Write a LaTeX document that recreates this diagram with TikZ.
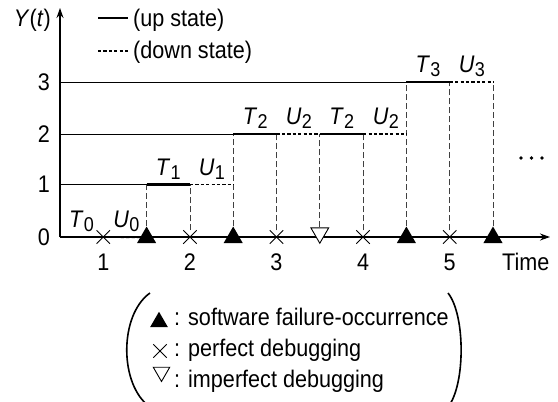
\documentclass[tikz,border=0pt]{standalone}
\usepackage{fontspec}
\setmainfont{Liberation Sans}[FakeStretch=0.9]
\usetikzlibrary{shapes.geometric,shapes.misc,arrows.meta}

% italic letter with a slightly smaller, lowered index
\newcommand\sym[2]{\textit{#1}\kern0.3pt\raisebox{-0.3ex}{\fontsize{20}{20}\selectfont #2}}

\tikzset{
  axisline/.style={line width=1.3pt, -{Stealth[length=10pt,width=7pt]}},
  gridline/.style={line width=0.8pt},
  upline/.style={line width=2.8pt},
  downline/.style={line width=1.6pt, dash pattern=on 3.2pt off 2.2pt},
  dropline/.style={line width=0.8pt, dash pattern=on 6pt off 3pt, black!75},
  failmark/.style={regular polygon, regular polygon sides=3, fill=black,
    minimum size=22pt, inner sep=0pt},
  perfmark/.style={cross out, draw, line width=0.9pt, minimum size=12.5pt, inner sep=0pt},
  imperfmark/.style={regular polygon, regular polygon sides=3, shape border rotate=180,
    draw, fill=white, line width=0.9pt, minimum size=20.5pt, inner sep=0pt},
  seglabel/.style={anchor=south, inner sep=0pt},
  txt/.style={inner sep=0pt},
}

\begin{document}
\begin{tikzpicture}[x=1pt, y=-1pt, font=\fontsize{24}{28}\selectfont]
\useasboundingbox (0,0) rectangle (558,402);
\clip (0,0) rectangle (558,402);

% axes
\coordinate (O) at (60,237);
\coordinate (ytop) at (60,8);
\coordinate (xend) at (550,237);
\draw[axisline] (O) -- (ytop);
\draw[axisline] (O) -- (xend);

% level end points on the left axis
\coordinate (y1) at (60,184.5);
\coordinate (y2) at (60,134);
\coordinate (y3) at (60,82);

% events on the time axis
\node[perfmark]   (e1)  at (103.3,237) {};
\node[failmark]   (e2)  at (146.6,237.5) {};
\node[perfmark]   (e3)  at (189.9,237) {};
\node[failmark]   (e4)  at (233.2,237.5) {};
\node[perfmark]   (e5)  at (276.5,237) {};
\node[imperfmark] (e6)  at (319.8,233) {};
\node[perfmark]   (e7)  at (363.1,237) {};
\node[failmark]   (e8)  at (406.4,237.5) {};
\node[perfmark]   (e9)  at (449.7,237) {};
\node[failmark]   (e10) at (493.0,237.5) {};

% points on each level
\coordinate (a2) at (146.6,184.5);
\coordinate (a3) at (189.9,184.5);
\coordinate (a4) at (233.2,184.5);
\coordinate (b4) at (233.2,134);
\coordinate (b5) at (276.5,134);
\coordinate (b6) at (319.8,134);
\coordinate (b7) at (363.1,134);
\coordinate (b8) at (406.4,134);
\coordinate (c8) at (406.4,82);
\coordinate (c9) at (449.7,82);
\coordinate (c10) at (493.0,82);

% thin level lines
\draw[gridline] (y1) -- (a2);
\draw[gridline] (y2) -- (b4);
\draw[gridline] (y3) -- (c8);

% vertical drops
\draw[dropline] (e2) -- (a2);
\draw[dropline] (e3) -- (a3);
\draw[dropline] (e4) -- (b4);
\draw[dropline] (e5) -- (b5);
\draw[dropline] (e6) -- (b6);
\draw[dropline] (e7) -- (b7);
\draw[dropline] (e8) -- (c8);
\draw[dropline] (e9) -- (c9);
\draw[dropline] (e10) -- (c10);

% up and down states
\draw[upline] (O) -- (e1.center);
\draw[downline] (e1) -- (e2);
\draw[upline] (a2) -- (a3);
\draw[downline] (a3) -- (a4);
\draw[upline] (b4) -- (b5);
\draw[downline] (b5) -- (b6);
\draw[upline] (b6) -- (b7);
\draw[downline] (b7) -- (b8);
\draw[upline] (c8) -- (c9);
\draw[downline] (c9) -- (c10);

% state labels
\node[seglabel] (t0) at (81.6,232) {\sym T0};
\node[seglabel] (u0) at (126.5,232) {\sym U0};
\node[seglabel] (t1) at (168.2,179.5) {\sym T1};
\node[seglabel] (u1) at (212.0,179.5) {\sym U1};
\node[seglabel] (t2) at (255.3,129) {\sym T2};
\node[seglabel] (u2) at (299.0,129) {\sym U2};
\node[seglabel] (t2b) at (341.8,129) {\sym T2};
\node[seglabel] (u2b) at (386.0,129) {\sym U2};
\node[seglabel] (t3) at (428.0,77) {\sym T3};
\node[seglabel] (u3) at (472.0,77) {\sym U3};

% axis numbers
\node[txt, anchor=east] (n0) at (50,237) {0};
\node[txt, anchor=east] (n1) at (50,184.5) {1};
\node[txt, anchor=east] (n2) at (50,134) {2};
\node[txt, anchor=east] (n3) at (50,82) {3};
\node[txt, anchor=north] (k1) at (103.3,254) {1};
\node[txt, anchor=north] (k2) at (189.9,254) {2};
\node[txt, anchor=north] (k3) at (276.5,254) {3};
\node[txt, anchor=north] (k4) at (363.1,254) {4};
\node[txt, anchor=north] (k5) at (449.7,254) {5};
\node[txt, anchor=north west] (time) at (502,253) {Time};
\node[txt, anchor=east] (ylab) at (51,20) {\textit{Y}(\textit{t})};

% continuation dots
\fill (521,158) circle (1.8pt) (531.5,158) circle (1.8pt) (542,158) circle (1.8pt);

% line style key
\coordinate (ku1) at (98,18);
\coordinate (ku2) at (128,18);
\coordinate (kd1) at (98,51);
\coordinate (kd2) at (128,51);
\draw[upline] (ku1) -- (ku2);
\draw[line width=1.2pt, dash pattern=on 3.2pt off 2.2pt] (kd1) -- (kd2);
\node[txt, anchor=west] (kup) at (133,20) {(up state)};
\node[txt, anchor=west] (kdown) at (133,52) {(down state)};

% marker key in large parentheses
\node[failmark, minimum size=20.5pt] (s1) at (159,322) {};
\node[perfmark] (s2) at (160,351) {};
\node[imperfmark, minimum size=19pt] (s3) at (161.5,372) {};
\node[txt, anchor=base west] (d1) at (174,325) {: software failure-occurrence};
\node[txt, anchor=base west] (d2) at (174,356) {: perfect debugging};
\node[txt, anchor=base west] (d3) at (174,387) {: imperfect debugging};
\draw[line width=1.6pt] (150,293) .. controls (119,315) and (119,385) .. (150,407);
\draw[line width=1.6pt] (448,293) .. controls (465.5,315) and (465.5,385) .. (448,407);
\end{tikzpicture}
\end{document}
